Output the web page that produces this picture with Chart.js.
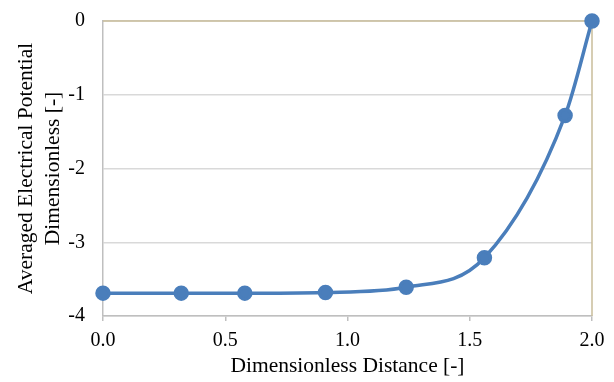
<!DOCTYPE html>
<html>
<head>
<meta charset="utf-8">
<script src="https://cdn.jsdelivr.net/npm/chart.js@4"></script>
<style>
  html, body { margin: 0; padding: 0; background: #fff; }
  canvas { display: block; }
</style>
</head>
<body>
<canvas id="chart" width="614" height="382"></canvas>
<script>
// values
const distance = [0.0, 0.32, 0.58, 0.91, 1.24, 1.56, 1.89, 2.0];
const potential = [-3.69, -3.69, -3.69, -3.68, -3.61, -3.21, -1.28, 0.0];
const xTicks = [0.0, 0.5, 1.0, 1.5, 2.0];
const yTicks = [0, -1, -2, -3, -4];

const FONT = 'Liberation Serif, "Times New Roman", serif';
const BLUE = '#4a7ebb';
const TAN = '#c9bd9b';

// top and right edge of the plot in tan, like the original sheet
const frame = {
  id: 'frame',
  beforeDatasetsDraw(chart) {
    const { ctx, chartArea: a } = chart;
    ctx.save();
    ctx.strokeStyle = TAN;
    ctx.lineWidth = 1.5;
    ctx.beginPath();
    ctx.moveTo(a.left, a.top);
    ctx.lineTo(a.right, a.top);
    ctx.lineTo(a.right, a.bottom);
    ctx.stroke();
    ctx.restore();
  },
};

new Chart(document.getElementById('chart'), {
  type: 'scatter',
  data: {
    datasets: [{
      data: distance.map((x, i) => ({ x, y: potential[i] })),
      showLine: true,
      cubicInterpolationMode: 'monotone',
      borderColor: BLUE,
      borderWidth: 3.5,
      backgroundColor: BLUE,
      pointBackgroundColor: BLUE,
      pointBorderColor: BLUE,
      pointRadius: 6,
      clip: false,
    }],
  },
  options: {
    responsive: false,
    animation: false,
    events: [],
    layout: { padding: { left: 0, top: 21, right: 22, bottom: 0 } },
    plugins: { legend: { display: false }, tooltip: { enabled: false } },
    scales: {
      x: {
        type: 'linear',
        min: 0,
        max: 2,
        afterBuildTicks: (s) => { s.ticks = xTicks.map((v) => ({ value: v })); },
        afterFit: (s) => { s.height = 66; s.paddingLeft = 0; s.paddingRight = 0; },
        grid: { drawOnChartArea: false, drawTicks: true, tickLength: 5, color: '#bfbfbf', lineWidth: 1.5 },
        border: { color: '#bfbfbf', width: 1.5 },
        ticks: {
          padding: 8,
          color: '#000',
          font: { family: FONT, size: 20 },
          callback: (v) => Number(v).toFixed(1),
        },
        title: {
          display: true,
          text: 'Dimensionless Distance [-]',
          color: '#000',
          font: { family: FONT, size: 21.5 },
          padding: { top: 0, bottom: 3 },
        },
      },
      y: {
        type: 'linear',
        min: -4,
        max: 0,
        afterBuildTicks: (s) => { s.ticks = yTicks.map((v) => ({ value: v })); },
        afterFit: (s) => { s.width = 103; s.paddingTop = 0; s.paddingBottom = 0; },
        grid: { drawTicks: false, color: '#d9d9d9', lineWidth: 1.5 },
        border: { color: '#bfbfbf', width: 1.5 },
        ticks: {
          padding: 18,
          color: '#000',
          font: { family: FONT, size: 20 },
        },
        title: {
          display: true,
          text: ['Averaged Electrical Potential', 'Dimensionless [-]'],
          color: '#000',
          font: { family: FONT, size: 21.5, lineHeight: 1.25 },
          padding: { top: 13, bottom: 0 },
        },
      },
    },
  },
  plugins: [frame],
});
</script>
</body>
</html>
